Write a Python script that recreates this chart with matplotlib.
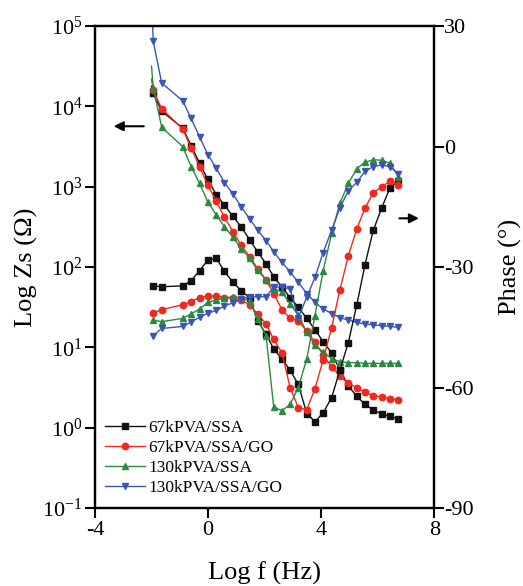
import numpy as np
import matplotlib
matplotlib.use('Agg')
import matplotlib.pyplot as plt
from matplotlib.ticker import FixedLocator, FuncFormatter, NullLocator

plt.rcParams['font.family'] = ['Liberation Serif', 'DejaVu Serif']
plt.rcParams['mathtext.fontset'] = 'custom'
plt.rcParams['mathtext.rm'] = 'Liberation Serif'
plt.rcParams['axes.unicode_minus'] = False

# log f (Hz) sample points
log_f = [-1.94, -1.64, -0.90, -0.60, -0.30, -0.01, 0.29, 0.58, 0.88, 1.17,
         1.47, 1.75, 2.05, 2.32, 2.61, 2.90, 3.19, 3.49, 3.78, 4.07,
         4.37, 4.66, 4.96, 5.26, 5.55, 5.84, 6.14, 6.43, 6.73]
# first (unmarked) point of each |Z| curve
lead_f = -2.0

labels = ['67kPVA/SSA', '67kPVA/SSA/GO', '130kPVA/SSA', '130kPVA/SSA/GO']

# log10 |Z| (ohm)
lead_zs = [4.25, 4.34, 4.50, 5.40]
logzs_67 = [4.16, 3.94, 3.73, 3.51, 3.29, 3.09, 2.90, 2.77, 2.63, 2.50,
            2.34, 2.19, 2.04, 1.88, 1.75, 1.62, 1.50, 1.36, 1.22, 1.07,
            0.93, 0.72, 0.52, 0.39, 0.29, 0.22, 0.17, 0.14, 0.11]
logzs_67go = [4.20, 3.97, 3.72, 3.48, 3.25, 3.02, 2.82, 2.62, 2.44, 2.27,
              2.13, 1.98, 1.84, 1.67, 1.47, 1.36, 1.33, 1.20, 1.07, 0.90,
              0.76, 0.64, 0.55, 0.50, 0.44, 0.40, 0.38, 0.36, 0.35]
logzs_130 = [4.23, 3.74, 3.50, 3.25, 3.04, 2.81, 2.65, 2.50, 2.37, 2.23,
             2.11, 1.96, 1.84, 1.73, 1.69, 1.54, 1.40, 1.19, 1.03, 0.94,
             0.86, 0.82, 0.81, 0.81, 0.80, 0.80, 0.80, 0.80, 0.80]
logzs_130go = [4.81, 4.29, 4.07, 3.85, 3.62, 3.40, 3.23, 3.05, 2.91, 2.75,
               2.60, 2.46, 2.33, 2.19, 2.06, 1.94, 1.81, 1.67, 1.56, 1.48,
               1.42, 1.37, 1.34, 1.31, 1.29, 1.28, 1.27, 1.26, 1.25]

# phase (deg)
ph_67 = [-34.7, -34.9, -34.7, -33.4, -30.9, -28.3, -27.8, -31.1, -33.8, -35.9,
         -37.7, -43.4, -46.7, -50.4, -52.9, -55.7, -59.2, -66.5, -68.5, -66.3,
         -62.5, -55.7, -48.8, -39.4, -29.4, -20.9, -15.3, -10.3, -8.5]
ph_67go = [-41.5, -40.6, -39.4, -38.6, -37.6, -37.3, -37.2, -37.6, -37.8, -38.3,
           -39.4, -41.7, -44.1, -48.0, -51.3, -60.0, -65.0, -65.5, -60.3, -53.1,
           -45.1, -35.7, -27.2, -20.5, -15.3, -11.6, -10.0, -8.7, -9.5]
ph_130 = [-43.2, -43.6, -42.8, -41.7, -40.4, -38.8, -38.2, -37.7, -37.4, -37.7,
          -38.4, -43.0, -47.1, -64.8, -65.8, -64.2, -60.0, -52.9, -42.1, -30.9,
          -21.6, -14.1, -9.2, -5.5, -3.9, -3.3, -3.4, -4.2, -7.5]
ph_130go = [-47.1, -45.3, -44.8, -43.7, -42.5, -41.5, -40.8, -39.7, -38.9, -38.0,
            -37.4, -37.4, -37.4, -35.0, -35.0, -35.4, -42.6, -37.5, -32.6, -26.4,
            -20.8, -15.3, -11.0, -8.9, -6.2, -5.0, -4.6, -5.0, -6.8]

zs_all = [logzs_67, logzs_67go, logzs_130, logzs_130go]
ph_all = [ph_67, ph_67go, ph_130, ph_130go]
colors = ['#111111', '#f0281e', '#2a8a3e', '#3a55b8']
markers = ['s', 'o', '^', 'v']
msizes = [4.0, 4.6, 5.0, 5.0]

fig = plt.figure(figsize=(5.23, 5.86), dpi=100)
ax = fig.add_axes([0.1816, 0.1331, 0.6488, 0.8225])
ax2 = ax.twinx()

handles = []
for zs, ph, lead, c, m, ms, lab in zip(zs_all, ph_all, lead_zs, colors, markers, msizes, labels):
    zs = np.array(zs)
    ax.plot([lead_f, log_f[0]], [10 ** lead, 10 ** zs[0]], color=c, lw=1.0)
    h, = ax.plot(log_f, 10 ** zs, color=c, lw=1.0, marker=m, ms=ms, mec=c, mfc=c, label=lab)
    handles.append(h)
    ax2.plot(log_f, ph, color=c, lw=1.0, marker=m, ms=ms, mec=c, mfc=c)

ax.set_xlim(-4, 8)
ax.set_yscale('log')
ax.set_ylim(1e-1, 1e5)
ax.xaxis.set_major_locator(FixedLocator([-4, 0, 4, 8]))
ax.yaxis.set_major_locator(FixedLocator([10.0 ** k for k in range(-1, 6)]))
ax.yaxis.set_minor_locator(NullLocator())
ax.yaxis.set_major_formatter(FuncFormatter(
    lambda v, pos: r'$\mathregular{10^{%d}}$' % int(round(np.log10(v)))))

ax2.set_ylim(-90, 30)
ax2.yaxis.set_major_locator(FixedLocator([-90, -60, -30, 0, 30]))
ax2.yaxis.set_minor_locator(NullLocator())

for a in (ax, ax2):
    for s in a.spines.values():
        s.set_linewidth(1.6)
ax.tick_params(axis='both', which='major', direction='out', length=7, width=1.5,
               labelsize=16, pad=2, top=False)
ax2.tick_params(axis='y', which='major', direction='out', length=7, width=1.5,
                labelsize=16, pad=0)

ax.set_xlabel('Log f (Hz)', fontsize=19, labelpad=16)
ax.set_ylabel('Log Zs (\u03a9)', fontsize=19, labelpad=3)
ax2.set_ylabel('Phase (\u00b0)', fontsize=19, labelpad=18)

ax.annotate('', xy=(0.047, 0.792), xytext=(0.152, 0.792), xycoords='axes fraction',
            arrowprops=dict(arrowstyle='-|>', color='black', lw=1.5, mutation_scale=14))
ax.annotate('', xy=(0.963, 0.601), xytext=(0.889, 0.601), xycoords='axes fraction',
            arrowprops=dict(arrowstyle='-|>', color='black', lw=1.5, mutation_scale=14))

ax2.legend(handles=handles, loc='lower left', bbox_to_anchor=(0.03, 0.025),
           frameon=False, fontsize=12.5, numpoints=1, handlelength=2.3,
           handletextpad=0.2, labelspacing=0.22, borderpad=0, borderaxespad=0)

fig.savefig('out.png', dpi=100)
